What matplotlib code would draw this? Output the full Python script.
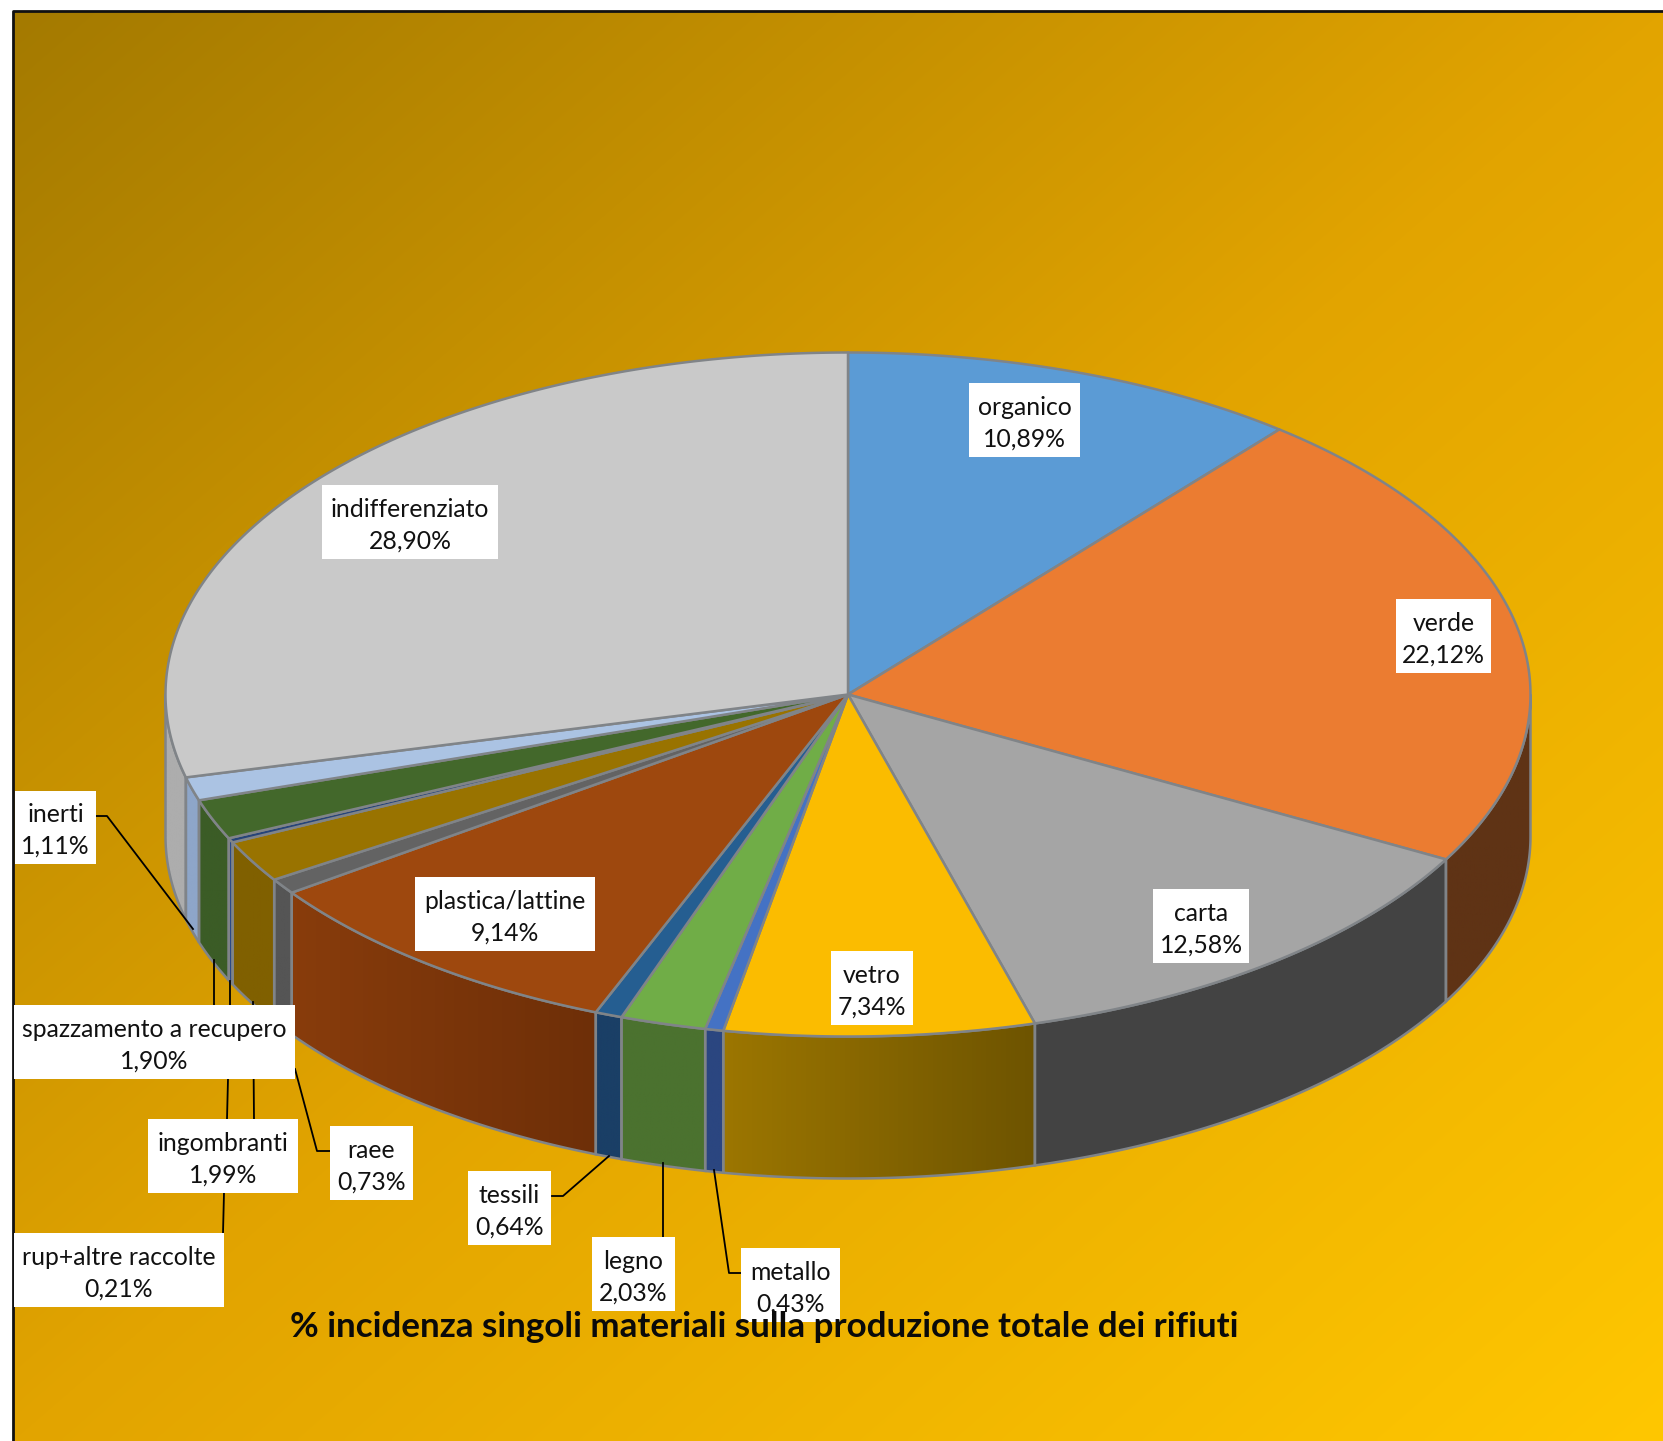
import numpy as np
import matplotlib
matplotlib.use("Agg")
import matplotlib.pyplot as plt
from matplotlib.colors import to_rgb
from matplotlib.patches import Polygon, Rectangle

names = ["organico", "verde", "carta", "vetro", "metallo", "legno", "tessili",
         "plastica/lattine", "raee", "ingombranti", "rup+altre raccolte",
         "spazzamento a recupero", "inerti", "indifferenziato"]
values = [10.89, 22.12, 12.58, 7.34, 0.43, 2.03, 0.64, 9.14, 0.73, 1.99, 0.21, 1.90, 1.11, 28.90]
title = "% incidenza singoli materiali sulla produzione totale dei rifiuti"

top_colors = ["#5B9BD5", "#EB7C31", "#A5A5A5", "#FBBC00", "#4472C4", "#70AD47", "#255E91",
              "#9E480E", "#636363", "#997300", "#264478", "#43682B", "#ABC3E3", "#C9C9C9"]
wall_left = ["#3F6F9A", "#5F3315", "#434343", "#9C7600", "#2B4680", "#4B722F", "#1A3F66",
             "#883C0C", "#555555", "#806000", "#2A4A85", "#3B5C26", "#8EA6C9", "#ADADAD"]
wall_right = ["#3F6F9A", "#5F3315", "#434343", "#6E5400", "#2B4680", "#4B722F", "#1A3F66",
              "#6E2F08", "#555555", "#806000", "#2A4A85", "#3B5C26", "#8EA6C9", "#ADADAD"]

# x0, x1, y0, y1 of the label boxes, in pixels
boxes = {
    "organico": (969, 1080, 383, 457),
    "verde": (1396, 1491, 599, 673),
    "carta": (1153, 1249, 889, 963),
    "vetro": (831, 913, 951, 1025),
    "metallo": (741, 840, 1248, 1322),
    "legno": (592, 675, 1237, 1311),
    "tessili": (468, 551, 1171, 1245),
    "plastica/lattine": (415, 595, 877, 951),
    "raee": (330, 413, 1126, 1200),
    "ingombranti": (148, 298, 1119, 1193),
    "rup+altre raccolte": (14, 224, 1233, 1307),
    "spazzamento a recupero": (14, 295, 1005, 1079),
    "inerti": (15, 96, 791, 864),
    "indifferenziato": (322, 498, 485, 559),
}
leaders = [
    ([96, 107, 193], [816, 816, 929]),
    ([214, 214], [960, 1005]),
    ([230, 230, 228, 227, 224, 223], [981, 1005, 1079, 1119, 1193, 1233]),
    ([253, 254], [1002, 1119]),
    ([295, 317, 330], [1069, 1151, 1151]),
    ([552, 563, 609], [1196, 1196, 1156]),
    ([663, 663], [1163, 1237]),
    ([714, 729, 741], [1170, 1273, 1273]),
]

W, H = 1663, 1441
cx, cy, rx, ry, depth = 848, 694.5, 682.5, 342, 142
EDGE = "#808488"
plt.rcParams["font.family"] = ["Lato", "DejaVu Sans"]

fig = plt.figure(figsize=(W / 100, H / 100), dpi=100, facecolor="white")
ax = fig.add_axes([0, 0, 1, 1])
ax.axis("off")

# background, diagonal gradient
xx, yy = np.meshgrid(np.linspace(0, 1, 300), np.linspace(0, 1, 300))
t = (xx + yy) / 2
stops = np.array([to_rgb("#A47A00"), to_rgb("#E2A400"), to_rgb("#FFC700")])
bg = np.dstack([np.interp(t, [0, 0.5, 1], stops[:, k]) for k in range(3)])
ax.imshow(bg, extent=(13, W, H, 11), aspect="auto", zorder=0, interpolation="bilinear")
ax.plot([13, 13, W], [H, 11, 11], color="#111111", lw=2, zorder=1)


def rim(a0, a1):
    a = np.radians(np.linspace(a0, a1, max(2, int(abs(a1 - a0) * 4))))
    return cx + rx * np.sin(a), cy - ry * np.cos(a)


edges = np.cumsum([0] + values) / sum(values) * 360

# walls, only the part facing the viewer
for i in range(len(values)):
    a0, a1 = max(edges[i], 90), min(edges[i + 1], 270)
    if a1 <= a0:
        continue
    x, y = rim(a0, a1)
    pts = np.vstack([np.c_[x, y], np.c_[x[::-1], y[::-1] + depth]])
    poly = Polygon(pts, closed=True, facecolor="none", edgecolor=EDGE, lw=1.8, zorder=3)
    ax.add_patch(poly)
    shade = np.linspace(0, 1, 64)[None, :, None]
    left, right = np.array(to_rgb(wall_left[i])), np.array(to_rgb(wall_right[i]))
    im = ax.imshow(left + (right - left) * shade, aspect="auto", zorder=2,
                   extent=(x.min(), x.max(), y.max() + depth, y.min()))
    im.set_clip_path(poly)

# top faces
for i in range(len(values)):
    x, y = rim(edges[i], edges[i + 1])
    ax.add_patch(Polygon(np.vstack([[cx, cy], np.c_[x, y]]), closed=True, facecolor=top_colors[i],
                         edgecolor=EDGE, lw=1.8, joinstyle="round", zorder=4))

for lx, ly in leaders:
    ax.plot(lx, ly, color="black", lw=1.3, zorder=5)

for name, v in zip(names, values):
    x0, x1, y0, y1 = boxes[name]
    ax.add_patch(Rectangle((x0, y0), x1 - x0, y1 - y0, facecolor="white", edgecolor="none", zorder=6))
    label = name + "\n" + f"{v:.2f}".replace(".", ",") + "%"
    ax.text((x0 + x1) / 2, (y0 + y1) / 2 + 3, label, ha="center", va="center", fontsize=17.8,
            color="#111111", linespacing=1.45, zorder=7)

ax.text(764, 1327, title, ha="center", va="center", fontsize=25.2, fontweight="bold",
        color="#0a0a0a", zorder=8)

ax.set_xlim(0, W)
ax.set_ylim(H, 0)
fig.savefig("out.png", dpi=100)
